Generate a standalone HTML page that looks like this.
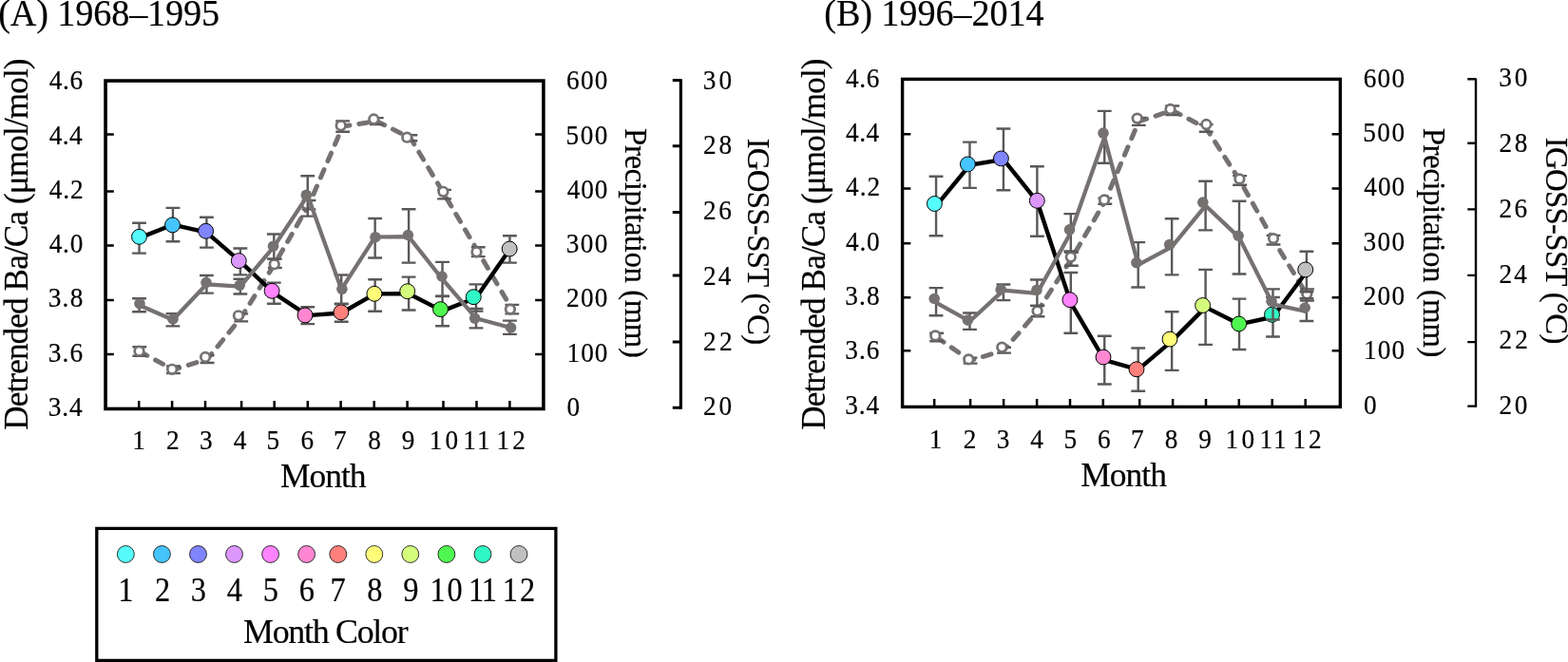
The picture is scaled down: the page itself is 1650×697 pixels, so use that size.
<!DOCTYPE html>
<html lang="en">
<head>
<meta charset="utf-8">
<title>Monthly detrended Ba/Ca, precipitation and IGOSS-SST</title>
<style>
html,body{margin:0;padding:0;background:#fff;}
body{width:1650px;height:697px;overflow:hidden;}
svg{display:block;font-family:"Liberation Serif", serif;fill:#000;}
text{stroke:#000;stroke-width:0.2px;}
</style>
</head>
<body>
<svg width="1650" height="697" viewBox="0 0 1650 697" role="img" aria-label="Monthly detrended Ba/Ca, precipitation and IGOSS-SST for 1968–1995 and 1996–2014">
<rect width="1650" height="697" fill="#fff"/>
<g id="chartA">
<g>
<path d="M146.8 370.05 L182.44 389.25 L218.08 378.15 L253.72 334.4 L289.36 277.3 L325 215.7 L360.64 133.1 L396.28 127.55 L431.92 145.3 L467.56 204.65 L503.2 265.15 L538.84 325.65" fill="none" stroke-linejoin="round" stroke="#767171" stroke-width="5.0" stroke-dasharray="9.1 9.9" stroke-linecap="round"/>
<path d="M146.8 365.3V374.8M139.4 365.3H154.2M139.4 374.8H154.2M182.44 385.5V393M175.04 385.5H189.84M175.04 393H189.84M218.08 374.3V382M210.68 374.3H225.48M210.68 382H225.48M253.72 330.4V338.4M246.32 330.4H261.12M246.32 338.4H261.12M289.36 272.6V282M281.96 272.6H296.76M281.96 282H296.76M325 211V220.4M317.6 211H332.4M317.6 220.4H332.4M360.64 127.4V138.8M353.24 127.4H368.04M353.24 138.8H368.04M396.28 124.1V131M388.88 124.1H403.68M388.88 131H403.68M431.92 142.3V148.3M424.52 142.3H439.32M424.52 148.3H439.32M467.56 199.9V209.4M460.16 199.9H474.96M460.16 209.4H474.96M503.2 260.2V270.1M495.8 260.2H510.6M495.8 270.1H510.6M538.84 320.9V330.4M531.44 320.9H546.24M531.44 330.4H546.24" fill="none" stroke="#5a5858" stroke-width="2.4"/>
<circle cx="146.5" cy="369.7" r="4.8" fill="#fff" stroke="#767171" stroke-width="2.7"/>
<circle cx="181.1" cy="388.8" r="4.8" fill="#fff" stroke="#767171" stroke-width="2.7"/>
<circle cx="216.1" cy="376" r="4.8" fill="#fff" stroke="#767171" stroke-width="2.7"/>
<circle cx="250.9" cy="332.3" r="4.8" fill="#fff" stroke="#767171" stroke-width="2.7"/>
<circle cx="288.7" cy="278.2" r="4.8" fill="#fff" stroke="#767171" stroke-width="2.7"/>
<circle cx="322.6" cy="215" r="4.8" fill="#fff" stroke="#767171" stroke-width="2.7"/>
<circle cx="358.7" cy="132.2" r="4.8" fill="#fff" stroke="#767171" stroke-width="2.7"/>
<circle cx="393.3" cy="125.5" r="4.8" fill="#fff" stroke="#767171" stroke-width="2.7"/>
<circle cx="428.3" cy="144.7" r="4.8" fill="#fff" stroke="#767171" stroke-width="2.7"/>
<circle cx="466.4" cy="201.8" r="4.8" fill="#fff" stroke="#767171" stroke-width="2.7"/>
<circle cx="501.5" cy="265.3" r="4.8" fill="#fff" stroke="#767171" stroke-width="2.7"/>
<circle cx="536.9" cy="325.6" r="4.8" fill="#fff" stroke="#767171" stroke-width="2.7"/>
</g>
<g>
<path d="M146.5 234.7V266.6M139.1 234.7H153.9M139.1 266.6H153.9M181.95 218.9V254.2M174.55 218.9H189.35M174.55 254.2H189.35M217.4 228.7V260.6M210 228.7H224.8M210 260.6H224.8M252.85 261.5V289.4M245.45 261.5H260.25M245.45 289.4H260.25M288.3 297.6V319.8M280.9 297.6H295.7M280.9 319.8H295.7M323.75 323.2V341.1M316.35 323.2H331.15M316.35 341.1H331.15M359.2 320.3V338.7M351.8 320.3H366.6M351.8 338.7H366.6M394.65 294.3V327.7M387.25 294.3H402.05M387.25 327.7H402.05M430.1 291.6V326.5M422.7 291.6H437.5M422.7 326.5H437.5M465.55 311.6V343.2M458.15 311.6H472.95M458.15 343.2H472.95M501 299.4V327.6M493.6 299.4H508.4M493.6 327.6H508.4M536.45 248.2V276.6M529.05 248.2H543.85M529.05 276.6H543.85" fill="none" stroke="#5a5858" stroke-width="2.4"/>
<path d="M146.5 250.65 L181.95 236.55 L217.4 244.65 L252.85 275.45 L288.3 308.7 L323.75 332.15 L359.2 329.5 L394.65 309.4 L430.1 309.2 L465.55 327.4 L501 313.5 L536.45 262.4" fill="none" stroke-linejoin="round" stroke="#000" stroke-width="4.4"/>
<circle cx="146.5" cy="249.3" r="7.95" fill="#56FBFB" stroke="#000" stroke-width="1.0"/>
<circle cx="181.5" cy="236.9" r="7.95" fill="#45C4FD" stroke="#000" stroke-width="1.0"/>
<circle cx="216.6" cy="243.3" r="7.95" fill="#8084FD" stroke="#000" stroke-width="1.0"/>
<circle cx="251.3" cy="274.6" r="7.95" fill="#DC97FD" stroke="#000" stroke-width="1.0"/>
<circle cx="286.1" cy="306.3" r="7.95" fill="#FF83FF" stroke="#000" stroke-width="1.0"/>
<circle cx="321" cy="331.9" r="7.95" fill="#FF86D1" stroke="#000" stroke-width="1.0"/>
<circle cx="358.9" cy="328.8" r="7.95" fill="#FF807C" stroke="#000" stroke-width="1.0"/>
<circle cx="393.9" cy="309.3" r="7.95" fill="#FFFC7A" stroke="#000" stroke-width="1.0"/>
<circle cx="428.7" cy="306.7" r="7.95" fill="#D4FC7C" stroke="#000" stroke-width="1.0"/>
<circle cx="463.5" cy="325.6" r="7.95" fill="#50F650" stroke="#000" stroke-width="1.0"/>
<circle cx="498.3" cy="312.7" r="7.95" fill="#30F8C4" stroke="#000" stroke-width="1.0"/>
<circle cx="536.2" cy="262" r="7.95" fill="#C0C0C0" stroke="#000" stroke-width="1.0"/>
</g>
<g>
<path d="M146.5 314.3V328.3M139.1 314.3H153.9M139.1 328.3H153.9M181.95 330.1V343.4M174.55 330.1H189.35M174.55 343.4H189.35M217.4 290V308.6M210 290H224.8M210 308.6H224.8M252.85 293.7V309.5M245.45 293.7H260.25M245.45 309.5H260.25M288.3 246.5V272.6M280.9 246.5H295.7M280.9 272.6H295.7M323.75 185.3V227.6M316.35 185.3H331.15M316.35 227.6H331.15M359.2 289.5V319.7M351.8 289.5H366.6M351.8 319.7H366.6M394.65 230V271.5M387.25 230H402.05M387.25 271.5H402.05M430.1 220.2V276.6M422.7 220.2H437.5M422.7 276.6H437.5M465.55 275.9V312M458.15 275.9H472.95M458.15 312H472.95M501 325V345.4M493.6 325H508.4M493.6 345.4H508.4M536.45 337.6V351.9M529.05 337.6H543.85M529.05 351.9H543.85" fill="none" stroke="#5a5858" stroke-width="2.4"/>
<path d="M146.5 321.3 L181.95 336.75 L217.4 299.3 L252.85 301.6 L288.3 259.55 L323.75 205.8 L359.2 304.6 L394.65 249.5 L430.1 249.2 L465.55 293.95 L501 335.2 L536.45 344.75" fill="none" stroke-linejoin="round" stroke="#767171" stroke-width="4.25"/>
<circle cx="147" cy="319.7" r="5.8" fill="#767171"/>
<circle cx="182" cy="336" r="5.8" fill="#767171"/>
<circle cx="217" cy="297.5" r="5.8" fill="#767171"/>
<circle cx="252.2" cy="300.3" r="5.8" fill="#767171"/>
<circle cx="287.5" cy="259.2" r="5.8" fill="#767171"/>
<circle cx="322.3" cy="205.4" r="5.8" fill="#767171"/>
<circle cx="359.9" cy="304.3" r="5.8" fill="#767171"/>
<circle cx="395" cy="249.7" r="5.8" fill="#767171"/>
<circle cx="429.4" cy="247.5" r="5.8" fill="#767171"/>
<circle cx="465" cy="291" r="5.8" fill="#767171"/>
<circle cx="499.7" cy="335.2" r="5.8" fill="#767171"/>
<circle cx="537.6" cy="345" r="5.8" fill="#767171"/>
</g>
<path d="M111.05 373H119.8M571.9 373H563.15M111.05 315.9H119.8M571.9 315.9H563.15M111.05 258.5H119.8M571.9 258.5H563.15M111.05 201.5H119.8M571.9 201.5H563.15M111.05 141.4H119.8M571.9 141.4H563.15M146.2 430.45V422M181.1 430.45V422M216 430.45V422M254.1 430.45V422M288.7 430.45V422M323.8 430.45V422M358.6 430.45V422M393.7 430.45V422M428.6 430.45V422M466.5 430.45V422M501.5 430.45V422M536.4 430.45V422" fill="none" stroke="#000" stroke-width="2.5"/>
<rect x="111.05" y="85.05" width="460.85" height="345.4" fill="none" stroke="#000" stroke-width="3.6"/>
<path d="M716.4 429.3H707.75M716.4 360.1H707.75M716.4 289.9H707.75M716.4 223.5H707.75M716.4 153.8H707.75M716.4 84.4H707.75" fill="none" stroke="#000" stroke-width="3.0"/>
<path d="M716.4 83.3V430.8" fill="none" stroke="#000" stroke-width="3.2"/>
<text transform="translate(50.75 438) scale(0.9 1)" font-size="30.3" style="letter-spacing:1.000px">3.4</text>
<text transform="translate(596.39 438) scale(0.9 1)" font-size="30.3">0</text>
<text transform="translate(50.75 380.7) scale(0.9 1)" font-size="30.3" style="letter-spacing:1.250px">3.6</text>
<text transform="translate(596.52 380.7) scale(0.9 1)" font-size="30.3" style="letter-spacing:1.139px">100</text>
<text transform="translate(50.75 323.4) scale(0.9 1)" font-size="30.3" style="letter-spacing:1.375px">3.8</text>
<text transform="translate(596.08 323.4) scale(0.9 1)" font-size="30.3" style="letter-spacing:1.389px">200</text>
<text transform="translate(51.65 266.1) scale(0.9 1)" font-size="30.3" style="letter-spacing:0.875px">4.0</text>
<text transform="translate(595.85 266.1) scale(0.9 1)" font-size="30.3" style="letter-spacing:1.514px">300</text>
<text transform="translate(51.65 208.8) scale(0.9 1)" font-size="30.3" style="letter-spacing:1.125px">4.2</text>
<text transform="translate(596.75 208.8) scale(0.9 1)" font-size="30.3" style="letter-spacing:1.014px">400</text>
<text transform="translate(51.65 151.5) scale(0.9 1)" font-size="30.3" style="letter-spacing:0.500px">4.4</text>
<text transform="translate(595.62 151.5) scale(0.9 1)" font-size="30.3" style="letter-spacing:1.639px">500</text>
<text transform="translate(51.65 94.2) scale(0.9 1)" font-size="30.3" style="letter-spacing:0.750px">4.6</text>
<text transform="translate(596.08 94.2) scale(0.9 1)" font-size="30.3" style="letter-spacing:1.389px">600</text>
<text transform="translate(740.08 437.4) scale(0.9 1)" font-size="30.3" style="letter-spacing:3.028px">20</text>
<text transform="translate(740.08 368.65) scale(0.9 1)" font-size="30.3" style="letter-spacing:3.528px">22</text>
<text transform="translate(740.08 299.9) scale(0.9 1)" font-size="30.3" style="letter-spacing:2.278px">24</text>
<text transform="translate(740.08 231.15) scale(0.9 1)" font-size="30.3" style="letter-spacing:2.778px">26</text>
<text transform="translate(740.08 162.4) scale(0.9 1)" font-size="30.3" style="letter-spacing:3.028px">28</text>
<text transform="translate(739.85 93.65) scale(0.9 1)" font-size="30.3" style="letter-spacing:3.278px">30</text>
<text transform="translate(139.2 473.4) scale(0.9 1)" font-size="30.3">1</text>
<text transform="translate(174.96 473.4) scale(0.9 1)" font-size="30.3">2</text>
<text transform="translate(209.93 473.4) scale(0.9 1)" font-size="30.3">3</text>
<text transform="translate(245.84 473.4) scale(0.9 1)" font-size="30.3">4</text>
<text transform="translate(280.61 473.4) scale(0.9 1)" font-size="30.3">5</text>
<text transform="translate(316.62 473.4) scale(0.9 1)" font-size="30.3">6</text>
<text transform="translate(351.09 473.4) scale(0.9 1)" font-size="30.3">7</text>
<text transform="translate(387.14 473.4) scale(0.9 1)" font-size="30.3">8</text>
<text transform="translate(422.75 473.4) scale(0.9 1)" font-size="30.3">9</text>
<text transform="translate(451.68 473.4) scale(0.9 1)" font-size="30.3" style="letter-spacing:3.639px">10</text>
<text transform="translate(487.32 473.4) scale(0.9 1)" font-size="30.3" style="letter-spacing:2.167px">11</text>
<text transform="translate(522.62 473.4) scale(0.9 1)" font-size="30.3" style="letter-spacing:3.361px">12</text>
<text transform="translate(-1.86 26.9) scale(0.95 1)" font-size="40.2" style="letter-spacing:-0.114px">(A) 1968–1995</text>
<text x="295" y="512.95" font-size="35.5" style="letter-spacing:-1.037px">Month</text>
<text transform="translate(29.1 452.8) rotate(-90)" font-size="35.2" style="letter-spacing:-0.892px">Detrended Ba/Ca (μmol/mol)</text>
<text transform="translate(658.1 135.1) rotate(90)" font-size="32.8" style="letter-spacing:-0.403px">Precipitation (mm)</text>
<text transform="translate(786.6 145.65) rotate(90)" font-size="32.8" style="letter-spacing:-0.700px">IGOSS-SST (°C)</text>
</g>
<g id="chartB">
<g>
<path d="M985.64 355 L1021.08 379.6 L1056.52 368.67 L1091.96 327.55 L1127.4 272.7 L1162.84 211.7 L1198.28 127.95 L1233.72 116.25 L1269.16 134.85 L1304.6 189.95 L1340.04 252.7 L1375.48 310.5" fill="none" stroke-linejoin="round" stroke="#767171" stroke-width="5.0" stroke-dasharray="9.1 9.9" stroke-linecap="round"/>
<path d="M985.64 350.7V359.3M978.24 350.7H993.04M978.24 359.3H993.04M1021.08 376.6V382.6M1013.68 376.6H1028.48M1013.68 382.6H1028.48M1056.52 365.7V371.65M1049.12 365.7H1063.92M1049.12 371.65H1063.92M1091.96 321.9V333.2M1084.56 321.9H1099.36M1084.56 333.2H1099.36M1127.4 265.7V279.7M1120 265.7H1134.8M1120 279.7H1134.8M1162.84 208.6V214.8M1155.44 208.6H1170.24M1155.44 214.8H1170.24M1198.28 124V131.9M1190.88 124H1205.68M1190.88 131.9H1205.68M1233.72 111.5V121M1226.32 111.5H1241.12M1226.32 121H1241.12M1269.16 131V138.7M1261.76 131H1276.56M1261.76 138.7H1276.56M1304.6 185.1V194.8M1297.2 185.1H1312M1297.2 194.8H1312M1340.04 247.9V257.5M1332.64 247.9H1347.44M1332.64 257.5H1347.44M1375.48 304.5V316.5M1368.08 304.5H1382.88M1368.08 316.5H1382.88" fill="none" stroke="#5a5858" stroke-width="2.4"/>
<circle cx="984.3" cy="353.4" r="4.8" fill="#fff" stroke="#767171" stroke-width="2.7"/>
<circle cx="1019.3" cy="378.4" r="4.8" fill="#fff" stroke="#767171" stroke-width="2.7"/>
<circle cx="1054.3" cy="365.6" r="4.8" fill="#fff" stroke="#767171" stroke-width="2.7"/>
<circle cx="1091.6" cy="327.4" r="4.8" fill="#fff" stroke="#767171" stroke-width="2.7"/>
<circle cx="1126.8" cy="270.6" r="4.8" fill="#fff" stroke="#767171" stroke-width="2.7"/>
<circle cx="1162" cy="210.5" r="4.8" fill="#fff" stroke="#767171" stroke-width="2.7"/>
<circle cx="1196.7" cy="124.6" r="4.8" fill="#fff" stroke="#767171" stroke-width="2.7"/>
<circle cx="1231.5" cy="115" r="4.8" fill="#fff" stroke="#767171" stroke-width="2.7"/>
<circle cx="1269.4" cy="131" r="4.8" fill="#fff" stroke="#767171" stroke-width="2.7"/>
<circle cx="1304.4" cy="188.4" r="4.8" fill="#fff" stroke="#767171" stroke-width="2.7"/>
<circle cx="1340" cy="251.1" r="4.8" fill="#fff" stroke="#767171" stroke-width="2.7"/>
<circle cx="1375.3" cy="309.5" r="4.8" fill="#fff" stroke="#767171" stroke-width="2.7"/>
</g>
<g>
<path d="M985.04 185.7V248.2M977.64 185.7H992.44M977.64 248.2H992.44M1020.48 149.6V197.9M1013.08 149.6H1027.88M1013.08 197.9H1027.88M1055.93 135.5V200.2M1048.53 135.5H1063.33M1048.53 200.2H1063.33M1091.37 175.3V248.8M1083.97 175.3H1098.77M1083.97 248.8H1098.77M1126.81 287V350.7M1119.41 287H1134.21M1119.41 350.7H1134.21M1162.25 353.8V404.5M1154.85 353.8H1169.65M1154.85 404.5H1169.65M1197.7 366.5V411.7M1190.3 366.5H1205.1M1190.3 411.7H1205.1M1233.14 328.3V389.9M1225.74 328.3H1240.54M1225.74 389.9H1240.54M1268.58 283.9V362.9M1261.18 283.9H1275.98M1261.18 362.9H1275.98M1304.02 314.6V368M1296.62 314.6H1311.42M1296.62 368H1311.42M1339.47 313V354.5M1332.07 313H1346.87M1332.07 354.5H1346.87M1374.91 264.8V307.2M1367.51 264.8H1382.31M1367.51 307.2H1382.31" fill="none" stroke="#5a5858" stroke-width="2.4"/>
<path d="M985.04 216.95 L1020.48 173.75 L1055.93 167.85 L1091.37 212.05 L1126.81 318.85 L1162.25 379.15 L1197.7 389.1 L1233.14 359.1 L1268.58 323.4 L1304.02 341.3 L1339.47 333.75 L1374.91 286" fill="none" stroke-linejoin="round" stroke="#000" stroke-width="4.4"/>
<circle cx="983.4" cy="214.5" r="7.95" fill="#56FBFB" stroke="#000" stroke-width="1.0"/>
<circle cx="1018.4" cy="172.9" r="7.95" fill="#45C4FD" stroke="#000" stroke-width="1.0"/>
<circle cx="1053.4" cy="166.9" r="7.95" fill="#8084FD" stroke="#000" stroke-width="1.0"/>
<circle cx="1091.3" cy="211.3" r="7.95" fill="#DC97FD" stroke="#000" stroke-width="1.0"/>
<circle cx="1125.9" cy="315.7" r="7.95" fill="#FF83FF" stroke="#000" stroke-width="1.0"/>
<circle cx="1161" cy="376" r="7.95" fill="#FF86D1" stroke="#000" stroke-width="1.0"/>
<circle cx="1196" cy="388.8" r="7.95" fill="#FF807C" stroke="#000" stroke-width="1.0"/>
<circle cx="1231" cy="357.1" r="7.95" fill="#FFFC7A" stroke="#000" stroke-width="1.0"/>
<circle cx="1265.6" cy="321.5" r="7.95" fill="#D4FC7C" stroke="#000" stroke-width="1.0"/>
<circle cx="1303.7" cy="341" r="7.95" fill="#50F650" stroke="#000" stroke-width="1.0"/>
<circle cx="1338.5" cy="331.3" r="7.95" fill="#30F8C4" stroke="#000" stroke-width="1.0"/>
<circle cx="1373.7" cy="283.9" r="7.95" fill="#C0C0C0" stroke="#000" stroke-width="1.0"/>
</g>
<g>
<path d="M985.04 303.1V332.3M977.64 303.1H992.44M977.64 332.3H992.44M1020.48 329.5V346.9M1013.08 329.5H1027.88M1013.08 346.9H1027.88M1055.93 299.5V316.1M1048.53 299.5H1063.33M1048.53 316.1H1063.33M1091.37 294.5V321.9M1083.97 294.5H1098.77M1083.97 321.9H1098.77M1126.81 225.1V264.5M1119.41 225.1H1134.21M1119.41 264.5H1134.21M1162.25 116.9V171.8M1154.85 116.9H1169.65M1154.85 171.8H1169.65M1197.7 255.1V302.5M1190.3 255.1H1205.1M1190.3 302.5H1205.1M1233.14 230.2V289.4M1225.74 230.2H1240.54M1225.74 289.4H1240.54M1268.58 190.8V242.4M1261.18 190.8H1275.98M1261.18 242.4H1275.98M1304.02 211.8V288.5M1296.62 211.8H1311.42M1296.62 288.5H1311.42M1339.47 304.35V336.5M1332.07 304.35H1346.87M1332.07 336.5H1346.87M1374.91 314.3V338M1367.51 314.3H1382.31M1367.51 338H1382.31" fill="none" stroke="#5a5858" stroke-width="2.4"/>
<path d="M985.04 318.6 L1020.48 338.2 L1055.93 305.6 L1091.37 308.8 L1126.81 244.8 L1162.25 144.35 L1197.7 278.8 L1233.14 259.8 L1268.58 216.6 L1304.02 250.15 L1339.47 320.43 L1374.91 328" fill="none" stroke-linejoin="round" stroke="#767171" stroke-width="4.25"/>
<circle cx="983.2" cy="314.5" r="5.8" fill="#767171"/>
<circle cx="1018.4" cy="337" r="5.8" fill="#767171"/>
<circle cx="1053.2" cy="304.9" r="5.8" fill="#767171"/>
<circle cx="1090.9" cy="305.4" r="5.8" fill="#767171"/>
<circle cx="1125.5" cy="241.8" r="5.8" fill="#767171"/>
<circle cx="1161" cy="140.1" r="5.8" fill="#767171"/>
<circle cx="1195.9" cy="276.6" r="5.8" fill="#767171"/>
<circle cx="1230.7" cy="257.5" r="5.8" fill="#767171"/>
<circle cx="1265.8" cy="213.1" r="5.8" fill="#767171"/>
<circle cx="1303.1" cy="248.2" r="5.8" fill="#767171"/>
<circle cx="1338" cy="317.2" r="5.8" fill="#767171"/>
<circle cx="1373.2" cy="324" r="5.8" fill="#767171"/>
</g>
<path d="M949.6 369.3H958.35M1410.35 369.3H1401.6M949.6 313.2H958.35M1410.35 313.2H1401.6M949.6 256.3H958.35M1410.35 256.3H1401.6M949.6 198.4H958.35M1410.35 198.4H1401.6M949.6 141.3H958.35M1410.35 141.3H1401.6M983.2 428.4V419.95M1021.1 428.4V419.95M1056.1 428.4V419.95M1091.1 428.4V419.95M1126 428.4V419.95M1160.8 428.4V419.95M1199.2 428.4V419.95M1234.1 428.4V419.95M1269 428.4V419.95M1303.8 428.4V419.95M1338.7 428.4V419.95M1373.7 428.4V419.95" fill="none" stroke="#000" stroke-width="2.5"/>
<rect x="949.6" y="83.35" width="460.75" height="345.05" fill="none" stroke="#000" stroke-width="3.4"/>
<path d="M1553 427.6H1544.3M1553 360.1H1544.3M1553 289.9H1544.3M1553 220.4H1544.3M1553 150.7H1544.3M1553 83.25H1544.3" fill="none" stroke="#000" stroke-width="2.4"/>
<path d="M1553 82.45V428.8" fill="none" stroke="#000" stroke-width="2.4"/>
<text transform="translate(889.15 435.8) scale(0.9 1)" font-size="30.3" style="letter-spacing:1.000px">3.4</text>
<text transform="translate(1434.99 435.8) scale(0.9 1)" font-size="30.3">0</text>
<text transform="translate(889.15 378.43) scale(0.9 1)" font-size="30.3" style="letter-spacing:1.250px">3.6</text>
<text transform="translate(1435.12 378.43) scale(0.9 1)" font-size="30.3" style="letter-spacing:1.139px">100</text>
<text transform="translate(889.15 321.06) scale(0.9 1)" font-size="30.3" style="letter-spacing:1.375px">3.8</text>
<text transform="translate(1434.67 321.06) scale(0.9 1)" font-size="30.3" style="letter-spacing:1.389px">200</text>
<text transform="translate(890.05 263.69) scale(0.9 1)" font-size="30.3" style="letter-spacing:0.875px">4.0</text>
<text transform="translate(1434.45 263.69) scale(0.9 1)" font-size="30.3" style="letter-spacing:1.514px">300</text>
<text transform="translate(890.05 206.32) scale(0.9 1)" font-size="30.3" style="letter-spacing:1.125px">4.2</text>
<text transform="translate(1435.35 206.32) scale(0.9 1)" font-size="30.3" style="letter-spacing:1.014px">400</text>
<text transform="translate(890.05 148.95) scale(0.9 1)" font-size="30.3" style="letter-spacing:0.500px">4.4</text>
<text transform="translate(1434.22 148.95) scale(0.9 1)" font-size="30.3" style="letter-spacing:1.639px">500</text>
<text transform="translate(890.05 91.58) scale(0.9 1)" font-size="30.3" style="letter-spacing:0.750px">4.6</text>
<text transform="translate(1434.67 91.58) scale(0.9 1)" font-size="30.3" style="letter-spacing:1.389px">600</text>
<text transform="translate(1577.48 435.6) scale(0.9 1)" font-size="30.3" style="letter-spacing:3.028px">20</text>
<text transform="translate(1577.48 366.72) scale(0.9 1)" font-size="30.3" style="letter-spacing:3.528px">22</text>
<text transform="translate(1577.48 297.84) scale(0.9 1)" font-size="30.3" style="letter-spacing:2.278px">24</text>
<text transform="translate(1577.48 228.96) scale(0.9 1)" font-size="30.3" style="letter-spacing:2.778px">26</text>
<text transform="translate(1577.48 160.08) scale(0.9 1)" font-size="30.3" style="letter-spacing:3.028px">28</text>
<text transform="translate(1577.25 91.2) scale(0.9 1)" font-size="30.3" style="letter-spacing:3.278px">30</text>
<text transform="translate(977.7 471.7) scale(0.9 1)" font-size="30.3">1</text>
<text transform="translate(1013.66 471.7) scale(0.9 1)" font-size="30.3">2</text>
<text transform="translate(1048.73 471.7) scale(0.9 1)" font-size="30.3">3</text>
<text transform="translate(1084.24 471.7) scale(0.9 1)" font-size="30.3">4</text>
<text transform="translate(1119.41 471.7) scale(0.9 1)" font-size="30.3">5</text>
<text transform="translate(1154.93 471.7) scale(0.9 1)" font-size="30.3">6</text>
<text transform="translate(1189.99 471.7) scale(0.9 1)" font-size="30.3">7</text>
<text transform="translate(1225.84 471.7) scale(0.9 1)" font-size="30.3">8</text>
<text transform="translate(1261.35 471.7) scale(0.9 1)" font-size="30.3">9</text>
<text transform="translate(1289.58 471.7) scale(0.9 1)" font-size="30.3" style="letter-spacing:3.639px">10</text>
<text transform="translate(1325.53 471.7) scale(0.9 1)" font-size="30.3" style="letter-spacing:2.167px">11</text>
<text transform="translate(1360.43 471.7) scale(0.9 1)" font-size="30.3" style="letter-spacing:3.361px">12</text>
<text transform="translate(867.24 26.8) scale(0.95 1)" font-size="40.2" style="letter-spacing:-0.079px">(B) 1996–2014</text>
<text x="1137.2" y="511.6" font-size="35.5" style="letter-spacing:-0.963px">Month</text>
<text transform="translate(867.9 452.8) rotate(-90)" font-size="35.2" style="letter-spacing:-0.892px">Detrended Ba/Ca (μmol/mol)</text>
<text transform="translate(1497.6 134.7) rotate(90)" font-size="32.8" style="letter-spacing:-0.403px">Precipitation (mm)</text>
<text transform="translate(1627.4 144.85) rotate(90)" font-size="32.8" style="letter-spacing:-0.700px">IGOSS-SST (°C)</text>
</g>
<g id="legend">
<rect x="101.8" y="556.4" width="483.1" height="139" fill="#fff" stroke="#000" stroke-width="3.3"/>
<circle cx="132.3" cy="583.5" r="8.95" fill="#56FBFB" stroke="#1c1c1c" stroke-width="0.9"/>
<circle cx="170.4" cy="583.5" r="8.95" fill="#45C4FD" stroke="#1c1c1c" stroke-width="0.9"/>
<circle cx="208.5" cy="583.5" r="8.95" fill="#8084FD" stroke="#1c1c1c" stroke-width="0.9"/>
<circle cx="246.5" cy="583.5" r="8.95" fill="#DC97FD" stroke="#1c1c1c" stroke-width="0.9"/>
<circle cx="284.6" cy="583.5" r="8.95" fill="#FF83FF" stroke="#1c1c1c" stroke-width="0.9"/>
<circle cx="322.6" cy="583.5" r="8.95" fill="#FF86D1" stroke="#1c1c1c" stroke-width="0.9"/>
<circle cx="355.8" cy="583.5" r="8.95" fill="#FF807C" stroke="#1c1c1c" stroke-width="0.9"/>
<circle cx="393.8" cy="583.5" r="8.95" fill="#FFFC7A" stroke="#1c1c1c" stroke-width="0.9"/>
<circle cx="431.8" cy="583.5" r="8.95" fill="#D4FC7C" stroke="#1c1c1c" stroke-width="0.9"/>
<circle cx="469.9" cy="583.5" r="8.95" fill="#50F650" stroke="#1c1c1c" stroke-width="0.9"/>
<circle cx="508" cy="583.5" r="8.95" fill="#30F8C4" stroke="#1c1c1c" stroke-width="0.9"/>
<circle cx="546" cy="583.5" r="8.95" fill="#C0C0C0" stroke="#1c1c1c" stroke-width="0.9"/>
<text transform="translate(124.25 632.8) scale(0.9 1)" font-size="36.0">1</text>
<text transform="translate(163.03 632.8) scale(0.9 1)" font-size="36.0">2</text>
<text transform="translate(200.79 632.8) scale(0.9 1)" font-size="36.0">3</text>
<text transform="translate(238.79 632.8) scale(0.9 1)" font-size="36.0">4</text>
<text transform="translate(276.78 632.8) scale(0.9 1)" font-size="36.0">5</text>
<text transform="translate(314.78 632.8) scale(0.9 1)" font-size="36.0">6</text>
<text transform="translate(347.53 632.8) scale(0.9 1)" font-size="36.0">7</text>
<text transform="translate(386.2 632.8) scale(0.9 1)" font-size="36.0">8</text>
<text transform="translate(424.31 632.8) scale(0.9 1)" font-size="36.0">9</text>
<text transform="translate(452.47 632.8) scale(0.9 1)" font-size="36.0" style="letter-spacing:2.083px">10</text>
<text transform="translate(493.07 632.8) scale(0.9 1)" font-size="36.0" style="letter-spacing:-1.472px">11</text>
<text transform="translate(528.68 632.8) scale(0.9 1)" font-size="36.0" style="letter-spacing:2.361px">12</text>
<text x="256.1" y="676.9" font-size="35.9" style="letter-spacing:-1.295px">Month Color</text>
</g>
</svg>
</body>
</html>
